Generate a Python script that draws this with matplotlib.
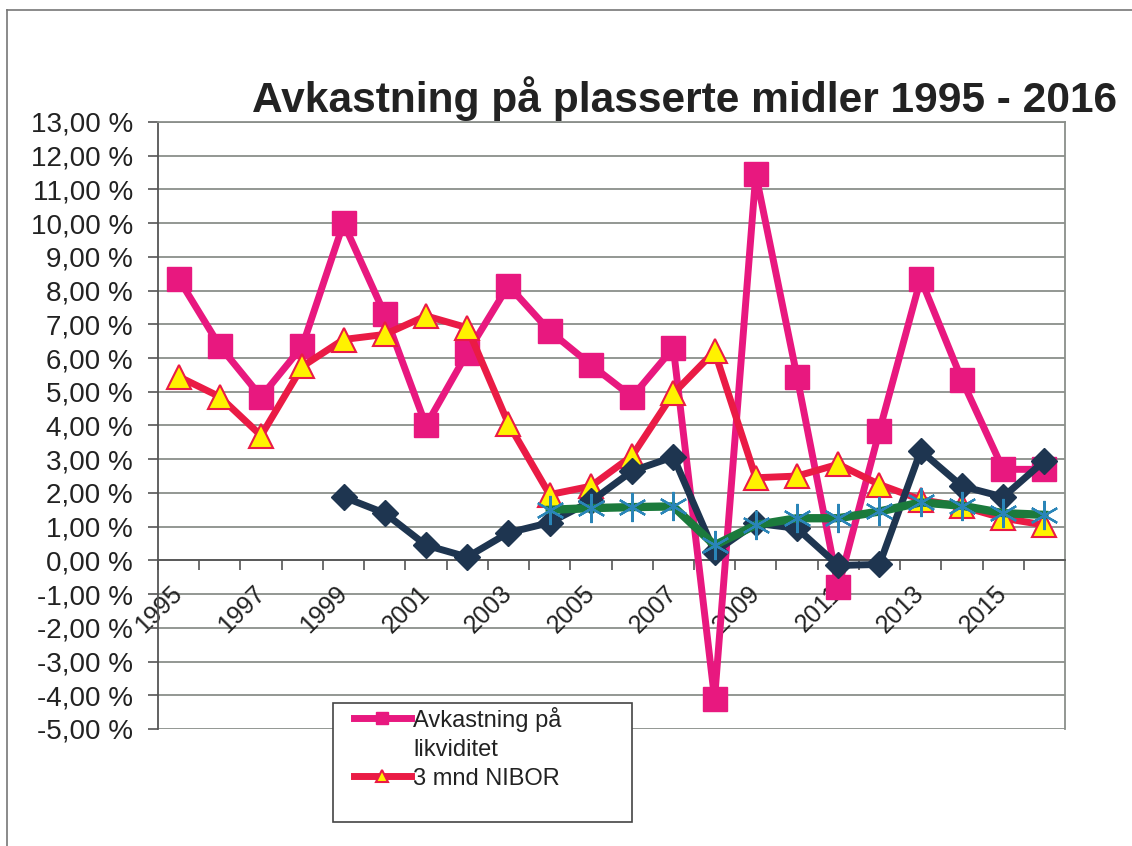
import matplotlib
matplotlib.use('Agg')
import matplotlib.pyplot as plt
from matplotlib.lines import Line2D
from matplotlib.patches import Rectangle
from matplotlib.ticker import FixedLocator, FuncFormatter

plt.rcParams['font.family'] = ['Liberation Sans', 'DejaVu Sans']

years = list(range(1995, 2017))

# Avkastning paa likviditet (%)
avkastning = [8.35, 6.35, 4.85, 6.35, 10.0, 7.3, 4.0, 6.15, 8.15, 6.8, 5.8,
              4.85, 6.3, -4.1, 11.45, 5.45, -0.8, 3.85, 8.35, 5.35, 2.7, 2.7]
# 3 mnd NIBOR (%)
nibor = [5.45, 4.85, 3.7, 5.75, 6.55, 6.7, 7.25, 6.9, 4.05, 1.95, 2.2,
         3.1, 4.95, 6.2, 2.45, 2.5, 2.85, 2.25, 1.8, 1.6, 1.25, 1.05]
# third series (dark blue, diamonds), from 1999
serie3_years = list(range(1999, 2017))
serie3 = [1.88, 1.4, 0.45, 0.1, 0.82, 1.12, 1.75, 2.65, 3.07, 0.25, 1.1,
          0.95, -0.15, -0.12, 3.25, 2.2, 1.88, 2.95]
# fourth series (green line, asterisks), from 2004
serie4_years = list(range(2004, 2017))
serie4 = [1.5, 1.55, 1.58, 1.6, 0.45, 1.05, 1.25, 1.25, 1.45, 1.72, 1.62,
          1.4, 1.35]

yticks = list(range(-5, 14))
year_labels = [str(y) if (y - 1995) % 2 == 0 else '' for y in years]

fig = plt.figure(figsize=(11.32, 8.46), dpi=100)
ax = fig.add_axes([0.1396, 0.1383, 0.8012, 0.7175])

for v in yticks:
    ax.axhline(v, color='#8a8f8a', lw=1.3, zorder=0.5)

pos = lambda ys: [years.index(y) for y in ys]

l1, = ax.plot(pos(years), avkastning, color='#e8187f', lw=5, marker='s', ms=17,
              mfc='#e8187f', mec='#e8187f', zorder=3)
l2, = ax.plot(pos(years), nibor, color='#ea1b45', lw=5, marker='^', ms=17,
              mfc='#fff200', mec='#ea1b45', mew=1.5, zorder=3.1)
ax.plot(pos(serie3_years), serie3, color='#1e3550', lw=5, marker='D', ms=13,
        mfc='#1e3550', mec='#1e3550', zorder=3.2)
ax.plot(pos(serie4_years), serie4, color='#1b7a3c', lw=6, marker=(6, 2, 0),
        ms=21, mfc='#2a85b8', mec='#2a85b8', mew=1.6, zorder=3.3)

ax.set_xlim(-0.5, len(years) - 0.5)
ax.set_ylim(-5, 13)

ax.yaxis.set_major_locator(FixedLocator(yticks))
ax.yaxis.set_major_formatter(FuncFormatter(lambda v, p: f'{v:.2f} %'.replace('.', ',')))
ax.tick_params(axis='y', direction='out', length=7, width=1.2, color='#555',
               labelsize=20, pad=11, labelcolor='#222')

ax.spines['bottom'].set_position(('data', 0))
ax.spines['bottom'].set_color('#555')
ax.spines['bottom'].set_linewidth(1.3)
ax.spines['left'].set_color('#555')
ax.spines['left'].set_linewidth(1.3)
for s in ['top', 'right']:
    ax.spines[s].set_color('#8a8f8a')
    ax.spines[s].set_linewidth(1.3)

ax.set_xticks(range(len(years)))
ax.set_xticklabels(year_labels, rotation=45, ha='right', va='center',
                   rotation_mode='anchor', fontsize=18, color='#222')
ax.tick_params(axis='x', which='major', length=0, pad=21)
ax.set_xticks([i - 0.5 for i in range(len(years) + 1)], minor=True)
ax.tick_params(axis='x', which='minor', direction='out', length=7, width=1.2,
               color='#555')

fig.text(0.605, 0.868, 'Avkastning på plasserte midler 1995 - 2016',
         fontsize=30.6, fontweight='bold', ha='center', va='baseline', color='#222')

# legend box
fig.patches.append(Rectangle((0.294, 0.028), 0.264, 0.141, transform=fig.transFigure,
                             fill=True, facecolor='white', edgecolor='#444',
                             lw=1.2, zorder=5))
blank = Line2D([], [], color='none')
leg = fig.legend([l1, blank, l2], ['Avkastning på', 'likviditet', '3 mnd NIBOR'],
                 loc='upper left', bbox_to_anchor=(0.294, 0.19),
                 frameon=False, fontsize=17, handlelength=2.4, handletextpad=0.1,
                 labelspacing=0.3, markerscale=0.55)
leg.set_zorder(6)
for t in leg.get_texts():
    t.set_color('#222')

# outer chart border
fig.add_artist(Line2D([0.006, 0.006], [0.0, 0.988], transform=fig.transFigure,
                      color='#777', lw=1.2))
fig.add_artist(Line2D([0.006, 1.0], [0.988, 0.988], transform=fig.transFigure,
                      color='#777', lw=1.2))

fig.savefig('out.png', dpi=100, facecolor='white')
